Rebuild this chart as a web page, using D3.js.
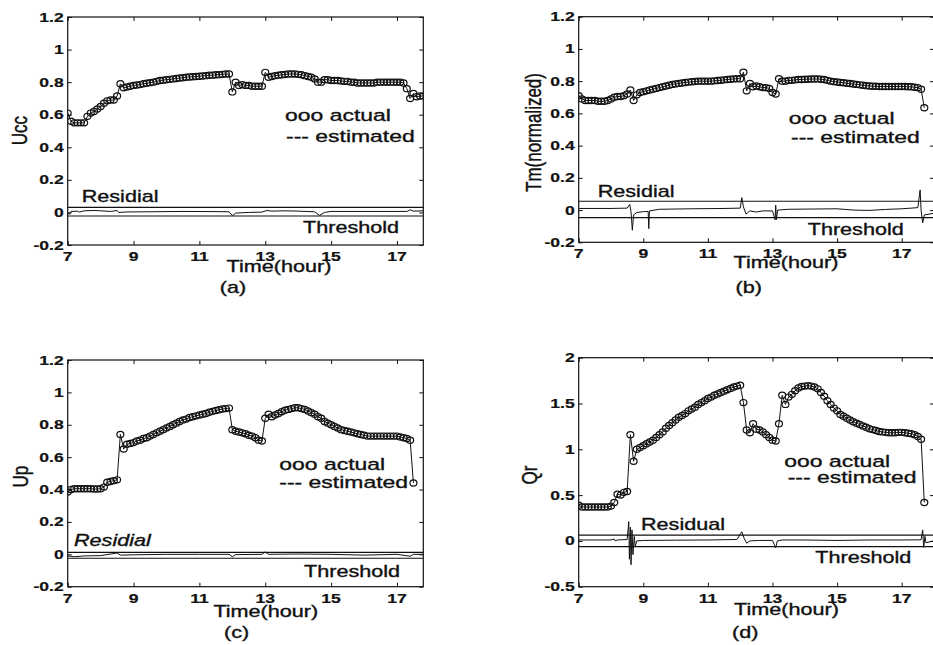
<!DOCTYPE html>
<html lang="en">
<head>
  <meta charset="UTF-8">
  <title>Actual vs estimated with residuals</title>
  <script src="https://d3js.org/d3.v7.min.js"></script>
  <style>
    body {
      margin: 0;
      padding: 0;
      background: #fff;
    }

    svg {
      display: block;
      font-family: "Liberation Sans", Arial, sans-serif;
    }
  </style>
</head>
<body>
  <svg id="chart"></svg>
  <script>
    // sample times (hour of day)
    const hours = [
      7.0, 7.1, 7.2, 7.3, 7.4, 7.5, 7.6, 7.7, 7.8, 7.9,
      8.0, 8.1, 8.2, 8.3, 8.4, 8.5, 8.6, 8.7, 8.8, 8.9,
      9.0, 9.1, 9.2, 9.3, 9.4, 9.5, 9.6, 9.7, 9.8, 9.9,
      10.0, 10.1, 10.2, 10.3, 10.4, 10.5, 10.6, 10.7, 10.8, 10.9,
      11.0, 11.1, 11.2, 11.3, 11.4, 11.5, 11.6, 11.7, 11.8, 11.9,
      12.0, 12.1, 12.2, 12.3, 12.4, 12.5, 12.6, 12.7, 12.8, 12.9,
      13.0, 13.1, 13.2, 13.3, 13.4, 13.5, 13.6, 13.7, 13.8, 13.9,
      14.0, 14.1, 14.2, 14.3, 14.4, 14.5, 14.6, 14.7, 14.8, 14.9,
      15.0, 15.1, 15.2, 15.3, 15.4, 15.5, 15.6, 15.7, 15.8, 15.9,
      16.0, 16.1, 16.2, 16.3, 16.4, 16.5, 16.6, 16.7, 16.8, 16.9,
      17.0, 17.1, 17.2, 17.3, 17.4, 17.5, 17.6, 17.7, 17.8
    ];

    const ucc = [
      0.61, 0.56, 0.55, 0.55, 0.55, 0.55, 0.59, 0.61, 0.62, 0.635,
      0.65, 0.67, 0.685, 0.69, 0.69, 0.715, 0.79, 0.765, 0.77, 0.775,
      0.78, 0.782, 0.785, 0.79, 0.793, 0.797, 0.80, 0.805, 0.81, 0.812,
      0.815, 0.817, 0.82, 0.822, 0.825, 0.827, 0.83, 0.832, 0.833, 0.835,
      0.836, 0.838, 0.84, 0.842, 0.843, 0.845, 0.846, 0.848, 0.85, 0.85,
      0.74, 0.80, 0.78, 0.785, 0.78, 0.78, 0.775, 0.775, 0.775, 0.775,
      0.86, 0.83, 0.835, 0.84, 0.843, 0.845, 0.847, 0.85, 0.85, 0.85,
      0.848, 0.845, 0.84, 0.835, 0.83, 0.82, 0.80, 0.80, 0.815, 0.815,
      0.81, 0.81, 0.81, 0.807, 0.805, 0.805, 0.80, 0.80, 0.795, 0.795,
      0.795, 0.795, 0.795, 0.795, 0.80, 0.80, 0.80, 0.80, 0.80, 0.80,
      0.80, 0.80, 0.795, 0.76, 0.70, 0.73, 0.71, 0.715, 0.715
    ];

    const tm = [
      0.71, 0.69, 0.68, 0.68, 0.68, 0.68, 0.675, 0.675, 0.675, 0.68,
      0.69, 0.70, 0.705, 0.705, 0.71, 0.72, 0.745, 0.68, 0.715, 0.73,
      0.735, 0.74, 0.745, 0.75, 0.755, 0.76, 0.765, 0.77, 0.775, 0.78,
      0.783, 0.786, 0.789, 0.792, 0.794, 0.796, 0.798, 0.80, 0.80, 0.80,
      0.80, 0.80, 0.802, 0.804, 0.806, 0.808, 0.81, 0.812, 0.814, 0.815,
      0.815, 0.855, 0.74, 0.785, 0.765, 0.77, 0.765, 0.76, 0.76, 0.755,
      0.73, 0.72, 0.815, 0.80, 0.80, 0.805, 0.805, 0.808, 0.81, 0.81,
      0.812, 0.812, 0.813, 0.813, 0.814, 0.812, 0.81, 0.805, 0.80, 0.797,
      0.795, 0.792, 0.79, 0.787, 0.785, 0.782, 0.78, 0.777, 0.775, 0.772,
      0.77, 0.768, 0.768, 0.767, 0.767, 0.767, 0.767, 0.767, 0.767, 0.767,
      0.767, 0.767, 0.765, 0.765, 0.762, 0.76, 0.75, 0.635
    ];

    const up = [
      0.385, 0.40, 0.405, 0.405, 0.405, 0.405, 0.405, 0.405, 0.403, 0.403,
      0.405, 0.415, 0.445, 0.45, 0.455, 0.46, 0.74, 0.65, 0.68, 0.685,
      0.69, 0.70, 0.705, 0.715, 0.72, 0.73, 0.74, 0.75, 0.76, 0.77,
      0.78, 0.79, 0.80, 0.81, 0.82, 0.83, 0.835, 0.845, 0.85, 0.855,
      0.86, 0.865, 0.87, 0.877, 0.883, 0.888, 0.893, 0.897, 0.90, 0.903,
      0.77, 0.76, 0.755, 0.75, 0.745, 0.735, 0.73, 0.72, 0.705, 0.70,
      0.84, 0.865, 0.85, 0.86, 0.87, 0.88, 0.89, 0.895, 0.90, 0.905,
      0.905, 0.90, 0.895, 0.885, 0.875, 0.865, 0.85, 0.84, 0.82, 0.81,
      0.80, 0.79, 0.78, 0.77, 0.765, 0.76, 0.755, 0.75, 0.745, 0.74,
      0.735, 0.73, 0.73, 0.73, 0.73, 0.73, 0.73, 0.73, 0.73, 0.73,
      0.73, 0.725, 0.72, 0.715, 0.705, 0.44
    ];

    const qr = [
      0.39, 0.37, 0.37, 0.37, 0.37, 0.37, 0.37, 0.37, 0.37, 0.37,
      0.38, 0.42, 0.51, 0.50, 0.53, 0.54, 1.16, 0.87, 1.00, 1.02,
      1.04, 1.06, 1.08, 1.10, 1.13, 1.16, 1.19, 1.23, 1.26, 1.29,
      1.32, 1.35, 1.37, 1.39, 1.42, 1.44, 1.46, 1.49, 1.51, 1.53,
      1.555, 1.57, 1.59, 1.605, 1.62, 1.635, 1.65, 1.665, 1.68, 1.69,
      1.70, 1.51, 1.21, 1.18, 1.28, 1.22, 1.21, 1.19, 1.16, 1.13,
      1.10, 1.09, 1.28, 1.59, 1.49, 1.57, 1.60, 1.64, 1.67, 1.685,
      1.69, 1.695, 1.69, 1.68, 1.66, 1.62, 1.58, 1.53, 1.49, 1.45,
      1.42, 1.38, 1.36, 1.34, 1.32, 1.30, 1.285, 1.27, 1.255, 1.24,
      1.225, 1.215, 1.205, 1.195, 1.19, 1.185, 1.18, 1.18, 1.18, 1.185,
      1.185, 1.18, 1.175, 1.17, 1.16, 1.14, 1.11, 0.42
    ];

    // residuals (time, value)
    const residTimeA = [7.0, 7.05, 7.1, 7.3, 7.35, 7.5, 7.8, 8.0, 8.3, 8.5, 8.55, 8.8, 9.5, 10.5, 11.5, 11.9, 12.0, 12.1, 12.5, 12.9, 13.05, 13.2, 13.6, 14.0, 14.5, 14.65, 14.8, 15.0, 16.0, 17.0, 17.3, 17.4, 17.5, 17.8];
    const residA = [0.0, -0.012, 0.006, 0.008, 0.002, 0.01, 0.012, 0.01, 0.006, 0.012, 0.0, 0.003, 0.004, 0.006, 0.005, 0.004, -0.02, -0.004, 0.0, 0.002, 0.012, 0.008, 0.01, 0.008, 0.004, -0.018, 0.0, 0.006, 0.006, 0.006, 0.006, 0.016, 0.008, 0.01];

    const residTimeB = [7.0, 8.0, 8.5, 8.58, 8.62, 8.66, 8.7, 8.8, 9.0, 9.15, 9.17, 9.19, 9.5, 10.5, 11.5, 12.0, 12.05, 12.1, 12.18, 12.3, 12.5, 12.7, 13.0, 13.08, 13.1, 13.12, 13.16, 13.5, 14.0, 15.0, 15.5, 16.0, 16.5, 17.0, 17.5, 17.57, 17.6, 17.65, 17.7, 18.0];
    const residB = [0.01, 0.01, 0.012, 0.035, -0.01, -0.125, -0.03, -0.015, -0.01, -0.008, -0.115, -0.005, 0.005, 0.008, 0.01, 0.012, 0.077, 0.02, -0.025, -0.005, -0.012, -0.005, -0.005, -0.06, 0.03, -0.06, 0.0, 0.005, 0.006, 0.008, 0.0, -0.002, 0.004, 0.008, 0.015, 0.125, 0.0, -0.08, -0.03, -0.02];

    const residTimeC = [7.0, 7.2, 7.5, 8.0, 8.5, 8.6, 9.0, 10.0, 11.0, 11.9, 12.0, 12.1, 12.9, 13.0, 13.1, 14.0, 15.0, 16.0, 17.0, 17.4, 17.5, 17.8];
    const residC = [-0.01, -0.015, -0.01, -0.008, 0.008, -0.005, -0.003, 0.0, 0.0, 0.0, -0.015, -0.002, 0.0, 0.015, 0.0, 0.002, 0.0, -0.005, 0.0, -0.012, 0.0, 0.0];

    const residTimeD = [7.0, 8.0, 8.1, 8.13, 8.2, 8.5, 8.55, 8.57, 8.6, 8.62, 8.65, 8.68, 8.72, 8.75, 8.8, 9.0, 10.0, 11.0, 11.9, 12.05, 12.12, 12.2, 12.3, 12.6, 13.0, 13.1, 13.15, 13.3, 14.0, 15.0, 16.0, 17.0, 17.6, 17.65, 17.68, 17.72, 17.75, 18.0];
    const residD = [0.01, 0.01, 0.02, 0.0, 0.01, 0.015, 0.21, -0.2, 0.15, -0.26, 0.12, -0.15, 0.05, -0.06, 0.0, 0.005, 0.008, 0.01, 0.015, 0.1, 0.03, -0.025, 0.0, 0.005, 0.005, -0.075, 0.0, 0.01, 0.01, 0.005, 0.01, 0.01, 0.012, 0.12, -0.07, 0.05, -0.02, 0.0];

    // upper / lower threshold
    const thresholdA = [0.031, -0.022];
    const thresholdB = [0.055, -0.047];
    const thresholdC = [0.012, -0.024];
    const thresholdD = [0.063, -0.063];

    const xTicks = [7, 9, 11, 13, 15, 17];
    const yTicksUnit = [-0.2, 0, 0.2, 0.4, 0.6, 0.8, 1, 1.2];
    const yTicksQr = [-0.5, 0, 0.5, 1, 1.5, 2];

    const width = 933;
    const height = 645;
    const SX = 1.35; // the scanned figure is stretched sideways

    const panels = [
      {
        id: "a", left: 67.7, right: 423.3, top: 17, bottom: 245, xMax: 17.8,
        yDomain: [-0.2, 1.2], yTicks: yTicksUnit, values: ucc,
        residT: residTimeA, resid: residA, thr: thresholdA,
        ylabel: "Ucc", ylabelPos: [27.3, 130.7],
        actualPos: [285, 120.7], estPos: [286, 141.7],
        residLabel: "Residial", residPos: [81.7, 201.7], residItalic: false,
        thrPos: [303, 233.3], xlabelPos: [279, 271.7],
        caption: "(a)", captionPos: [233, 293]
      },
      {
        id: "b", left: 578.7, right: 934, top: 16.7, bottom: 242.3, xMax: 18,
        yDomain: [-0.2, 1.2], yTicks: yTicksUnit, values: tm,
        residT: residTimeB, resid: residB, thr: thresholdB,
        ylabel: "Tm(normalized)", ylabelPos: [541, 132.5],
        actualPos: [788.7, 124], estPos: [791, 142.7],
        residLabel: "Residial", residPos: [597.7, 197.3], residItalic: false,
        thrPos: [807.7, 235], xlabelPos: [786, 268.3],
        caption: "(b)", captionPos: [748.7, 293]
      },
      {
        id: "c", left: 67.7, right: 423.3, top: 360, bottom: 586.7, xMax: 17.8,
        yDomain: [-0.2, 1.2], yTicks: yTicksUnit, values: up,
        residT: residTimeC, resid: residC, thr: thresholdC,
        ylabel: "Up", ylabelPos: [28.3, 476.7],
        actualPos: [279.3, 470], estPos: [279.3, 488.3],
        residLabel: "Residial", residPos: [74, 546], residItalic: true,
        thrPos: [304, 576.7], xlabelPos: [265.8, 616.7],
        caption: "(c)", captionPos: [236.7, 638]
      },
      {
        id: "d", left: 578.7, right: 934, top: 357.7, bottom: 586.7, xMax: 18,
        yDomain: [-0.5, 2], yTicks: yTicksQr, values: qr,
        residT: residTimeD, resid: residD, thr: thresholdD,
        ylabel: "Qr", ylabelPos: [536.7, 475],
        actualPos: [784.3, 466.7], estPos: [787.7, 483.3],
        residLabel: "Residual", residPos: [641, 530], residItalic: false,
        thrPos: [815.3, 563.3], xlabelPos: [786.5, 615],
        caption: "(d)", captionPos: [745.3, 638]
      }
    ];

    const svg = d3.select("#chart")
      .attr("width", width)
      .attr("height", height)
      .attr("viewBox", [0, 0, width, height]);

    svg.append("rect").attr("width", width).attr("height", height).attr("fill", "#fff");

    function label(g, str, x, y, opts = {}) {
      let t = `translate(${x},${y}) scale(${SX},1)`;
      if (opts.rotate) t += " rotate(-90)";
      return g.append("text")
        .attr("transform", t)
        .attr("text-anchor", opts.anchor || "start")
        .attr("font-size", opts.size || 16)
        .attr("font-weight", opts.bold ? "bold" : "normal")
        .attr("font-style", opts.italic ? "italic" : "normal")
        .attr("dy", opts.dy || null)
        .attr("fill", "#111")
        .attr("stroke", "#111")
        .attr("stroke-width", opts.bold ? 0.2 : 0.35)
        .text(str);
    }

    panels.forEach(drawPanel);

    function drawPanel(p) {
      const g = svg.append("g").attr("class", "panel-" + p.id);

      const x = d3.scaleLinear().domain([7, p.xMax]).range([p.left, p.right]);
      const y = d3.scaleLinear().domain(p.yDomain).range([p.bottom, p.top]);

      g.append("clipPath").attr("id", "clip-" + p.id)
        .append("rect")
        .attr("x", p.left).attr("y", p.top)
        .attr("width", p.right - p.left).attr("height", p.bottom - p.top);

      // inward ticks on all four sides
      const noDomain = a => a.select(".domain").remove();
      g.append("g").attr("transform", `translate(0,${p.bottom})`)
        .call(d3.axisBottom(x).tickValues(xTicks).tickSize(-4).tickFormat(""))
        .call(noDomain);
      g.append("g").attr("transform", `translate(0,${p.top})`)
        .call(d3.axisTop(x).tickValues(xTicks).tickSize(-4).tickFormat(""))
        .call(noDomain);
      g.append("g").attr("transform", `translate(${p.left},0)`)
        .call(d3.axisLeft(y).tickValues(p.yTicks).tickSize(-4).tickFormat(""))
        .call(noDomain);
      g.append("g").attr("transform", `translate(${p.right},0)`)
        .call(d3.axisRight(y).tickValues(p.yTicks).tickSize(-4).tickFormat(""))
        .call(noDomain);
      g.selectAll(".tick line").attr("stroke", "#111");

      g.append("rect")
        .attr("x", p.left).attr("y", p.top)
        .attr("width", p.right - p.left).attr("height", p.bottom - p.top)
        .attr("fill", "none").attr("stroke", "#111").attr("stroke-width", 1.2);

      // tick labels
      p.yTicks.forEach(v => label(g, String(v), p.left - 4, y(v), { anchor: "end", size: 13, bold: true, dy: "0.35em" }));
      xTicks.forEach(v => label(g, String(v), x(v), p.bottom + 16, { anchor: "middle", size: 13, bold: true }));

      const plot = g.append("g").attr("clip-path", `url(#clip-${p.id})`);

      // thresholds
      plot.selectAll("line.thr")
        .data(p.thr)
        .join("line")
        .attr("class", "thr")
        .attr("x1", p.left).attr("x2", p.right)
        .attr("y1", d => y(d)).attr("y2", d => y(d))
        .attr("stroke", "#111").attr("stroke-width", 1.1);

      const line = d3.line().x(d => x(d[0])).y(d => y(d[1]));

      // residual
      plot.append("path")
        .datum(d3.zip(p.residT, p.resid))
        .attr("fill", "none").attr("stroke", "#111").attr("stroke-width", 1)
        .attr("d", line);

      const pts = d3.zip(hours.slice(0, p.values.length), p.values);

      // estimated
      plot.append("path")
        .datum(pts)
        .attr("fill", "none").attr("stroke", "#111").attr("stroke-width", 1)
        .attr("d", line);

      // actual
      plot.selectAll("ellipse")
        .data(pts)
        .join("ellipse")
        .attr("cx", d => x(d[0])).attr("cy", d => y(d[1]))
        .attr("rx", 3.5).attr("ry", 3.1)
        .attr("fill", "none").attr("stroke", "#111").attr("stroke-width", 1.2);

      // texts
      label(g, "ooo actual", p.actualPos[0], p.actualPos[1], { size: 17 });
      label(g, "--- estimated", p.estPos[0], p.estPos[1], { size: 17 });
      label(g, p.residLabel, p.residPos[0], p.residPos[1], { size: 16, italic: p.residItalic });
      label(g, "Threshold", p.thrPos[0], p.thrPos[1], { size: 16 });
      label(g, "Time(hour)", p.xlabelPos[0], p.xlabelPos[1], { size: 16, anchor: "middle" });
      label(g, p.caption, p.captionPos[0], p.captionPos[1], { size: 16, anchor: "middle" });
      label(g, p.ylabel, p.ylabelPos[0], p.ylabelPos[1], { size: 17, anchor: "middle", rotate: true });
    }
  </script>
</body>
</html>
